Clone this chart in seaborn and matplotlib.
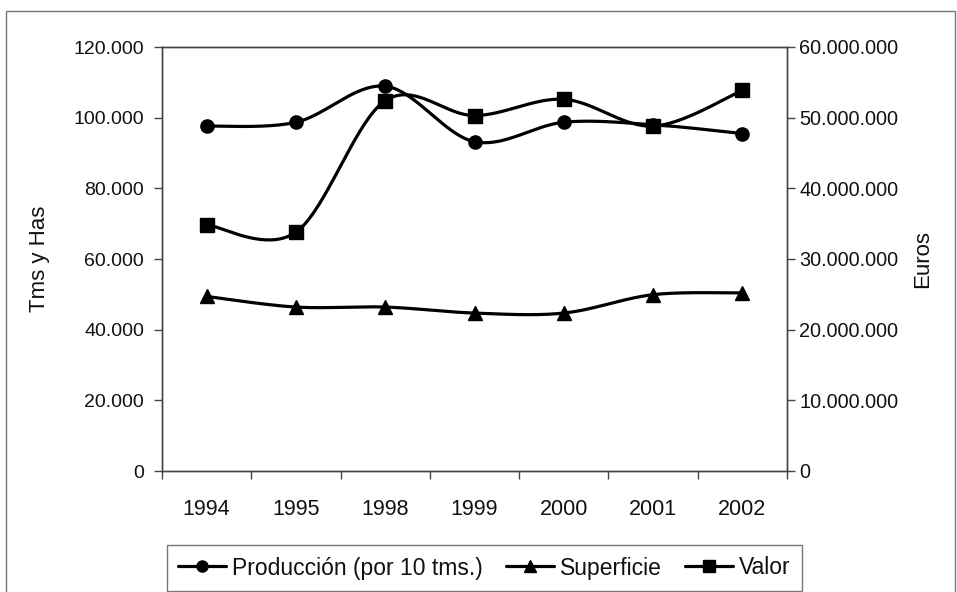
import numpy as np
import matplotlib
matplotlib.use("Agg")
import matplotlib.pyplot as plt
import seaborn as sns
from matplotlib.lines import Line2D
from matplotlib.patches import Rectangle
from matplotlib.ticker import FuncFormatter, FixedLocator

years = ["1994", "1995", "1998", "1999", "2000", "2001", "2002"]
produccion = [97600, 98700, 108900, 93200, 98700, 98000, 95500]
superficie = [49400, 46400, 46400, 44700, 44700, 49900, 50400]
valor = [34850000, 33800000, 52400000, 50300000, 52600000, 48800000, 53850000]
left_ticks = [0, 20000, 40000, 60000, 80000, 100000, 120000]
right_ticks = [0, 10000000, 20000000, 30000000, 40000000, 50000000, 60000000]

sns.set_theme(style="white")
plt.rcParams['font.family'] = ['Liberation Sans', 'DejaVu Sans']


def smooth(y, n=40):
    x = np.arange(len(y), dtype=float)
    y = np.asarray(y, float)
    P = np.column_stack([x, y])
    Pe = np.vstack([P[0], P, P[-1]])
    pts = []
    for i in range(len(P) - 1):
        p0, p1, p2, p3 = Pe[i], Pe[i + 1], Pe[i + 2], Pe[i + 3]
        c1 = p1 + (p2 - p0) / 6
        c2 = p2 - (p3 - p1) / 6
        t = np.linspace(0, 1, n)[:, None]
        seg = (1 - t) ** 3 * p1 + 3 * (1 - t) ** 2 * t * c1 + 3 * (1 - t) * t ** 2 * c2 + t ** 3 * p2
        pts.append(seg if i == 0 else seg[1:])
    s = np.vstack(pts)
    return s[:, 0], s[:, 1]


def dots(v, pos=None):
    return f"{int(round(v)):,}".replace(",", ".")


fig = plt.figure(figsize=(9.57, 5.92), dpi=100)
ax = fig.add_axes([162 / 957, 121 / 592, 625 / 957, 424 / 592])
ax2 = ax.twinx()

lw = 2.3
ms = 9.5
xi = np.arange(len(years))

for data, mk, a in [(produccion, "o", ax), (superficie, "^", ax), (valor, "s", ax2)]:
    sx, sy = smooth(data)
    sns.lineplot(x=sx, y=sy, ax=a, color="black", lw=lw, sort=False, estimator=None)
    a.plot(xi, data, linestyle="none", marker=mk, color="black", markersize=ms)

ax.set_xlim(-0.5, 6.5)
ax.set_ylim(0, 120000)
ax2.set_ylim(0, 60000000)

ax.xaxis.set_major_locator(FixedLocator(xi))
ax.set_xticklabels(years)
ax.xaxis.set_minor_locator(FixedLocator(np.arange(-0.5, 7.0, 1.0)))
ax.tick_params(axis="x", which="major", length=0, pad=20, labelsize=15.5, colors="#111111")
ax.tick_params(axis="x", which="minor", length=6, width=1, color="#444444", bottom=True)

ax.yaxis.set_major_locator(FixedLocator(left_ticks))
ax.yaxis.set_major_formatter(FuncFormatter(dots))
ax.tick_params(axis="y", length=6, width=1, color="#444444", left=True, labelsize=14, labelcolor="#111111", pad=7)

ax2.yaxis.set_major_locator(FixedLocator(right_ticks))
ax2.yaxis.set_major_formatter(FuncFormatter(dots))
ax2.tick_params(axis="y", length=6, width=1, color="#444444", right=True, labelsize=14.3, labelcolor="#111111", pad=3)

ax.set_ylabel("Tms y Has", fontsize=16, color="#111111", labelpad=17)
ax2.set_ylabel("Euros", fontsize=16, color="#111111", labelpad=10)

for a in (ax, ax2):
    for sp in a.spines.values():
        sp.set_color("#444444")
        sp.set_linewidth(1.0)
        sp.set_visible(True)
ax.grid(False)
ax2.grid(False)

handles = [
    Line2D([], [], color="black", lw=lw, marker="o", markersize=ms - 1.5),
    Line2D([], [], color="black", lw=lw, marker="^", markersize=ms - 1.5),
    Line2D([], [], color="black", lw=lw, marker="s", markersize=ms - 1.5),
]
labels = ["Producción (por 10 tms.)", "Superficie", "Valor"]
leg = fig.legend(handles, labels, loc="center", bbox_to_anchor=(484.5 / 957, 24 / 592), ncol=3,
                 frameon=True, fancybox=False, edgecolor="#555555", fontsize=16.5,
                 handlelength=2.1, handletextpad=0.26, columnspacing=1.0, borderpad=0.5)
leg.get_frame().set_linewidth(1.0)
for t in leg.get_texts():
    t.set_color("#111111")

fig.patches.append(Rectangle((6 / 957, -0.02), 949 / 957, 0.02 + 581 / 592, transform=fig.transFigure,
                             fill=False, edgecolor="#777777", lw=1.0))

fig.savefig("out.png", dpi=100)
